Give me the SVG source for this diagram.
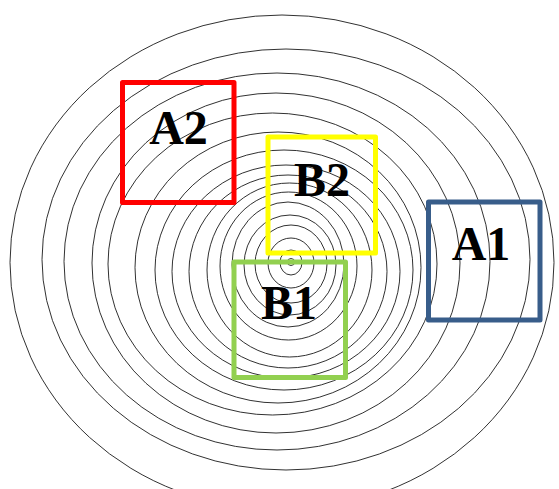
<svg xmlns="http://www.w3.org/2000/svg" width="559" height="489" viewBox="0 0 559 489">
<style>
.ring{fill:none;stroke:#1a1a1a;stroke-width:0.9}
.box{fill:none;stroke-width:5;stroke-linejoin:round}
.lbl{font-family:"Liberation Serif","Times New Roman",serif;font-weight:bold;font-size:48px;fill:#000;text-anchor:middle}
</style>
<rect width="559" height="489" fill="#fff"/>
<g id="rings">
<circle class="ring" cx="291" cy="262" r="3.5"/>
<ellipse class="ring" cx="291" cy="262.5" rx="11" ry="12.5"/>
<ellipse class="ring" cx="291" cy="263" rx="23" ry="25"/>
<ellipse class="ring" cx="291" cy="264" rx="36" ry="39"/>
<ellipse class="ring" cx="290" cy="265" rx="46" ry="50"/>
<ellipse class="ring" cx="288" cy="264.5" rx="56" ry="62.5"/>
<ellipse class="ring" cx="288.5" cy="266" rx="68.5" ry="74"/>
<ellipse class="ring" cx="289.5" cy="270" rx="82.5" ry="87"/>
<ellipse class="ring" cx="288" cy="271.5" rx="99" ry="96.5"/>
<ellipse class="ring" cx="286" cy="271.5" rx="114" ry="106.5"/>
<ellipse class="ring" cx="284" cy="270" rx="129" ry="120"/>
<ellipse class="ring" cx="278" cy="267.5" rx="143" ry="135.5"/>
<ellipse class="ring" cx="272.5" cy="264" rx="164.5" ry="151"/>
<ellipse class="ring" cx="276" cy="263" rx="184" ry="170"/>
<ellipse class="ring" cx="277" cy="261.5" rx="213" ry="188.5"/>
<ellipse class="ring" cx="286" cy="259.5" rx="244" ry="210.5"/>
<ellipse class="ring" cx="282" cy="262.5" rx="272" ry="247.5"/>
</g>
<g id="A2">
<rect class="box" x="122.5" y="82.5" width="111.5" height="120" stroke="#ff0000"/>
<text class="lbl" x="178.5" y="144">A2</text>
</g>
<g id="B2">
<rect class="box" x="268" y="137" width="107.5" height="116" stroke="#ffff00"/>
<text class="lbl" x="322" y="196">B2</text>
</g>
<g id="A1">
<rect class="box" x="428.5" y="202" width="111.5" height="118" stroke="#385d8a"/>
<text class="lbl" x="481" y="260">A1</text>
</g>
<g id="B1">
<rect class="box" x="234" y="262" width="111.5" height="115.5" stroke="#92d050"/>
<text class="lbl" x="289" y="319">B1</text>
</g>
</svg>
